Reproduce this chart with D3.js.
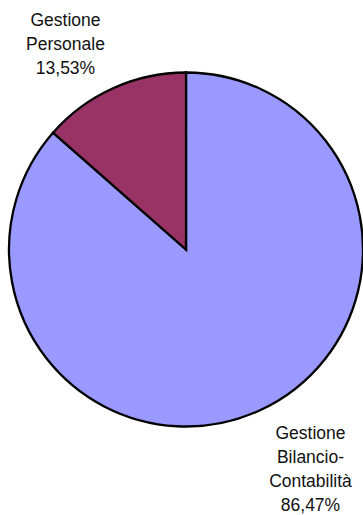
<!DOCTYPE html>
<html>
<head>
<meta charset="utf-8">
<script src="https://cdn.jsdelivr.net/npm/d3@7/dist/d3.min.js"></script>
<style>
  html, body { margin: 0; padding: 0; background: #fff; }
  svg { display: block; }
</style>
</head>
<body>
<svg id="chart" width="363" height="515"></svg>
<script>
// Share of activity by area (percent)
const categories = ["Gestione Bilancio-Contabilità", "Gestione Personale"];
const values = [86.47, 13.53];
const colors = ["#9999FF", "#993366"];
// Label lines shown next to each slice
const labelLines = [
  ["Gestione", "Bilancio-", "Contabilità", "86,47%"],
  ["Gestione", "Personale", "13,53%"]
];

const width = 363, height = 515;
const cx = 186, cy = 249.5, radius = 177;

const svg = d3.select("#chart");
const g = svg.append("g").attr("transform", `translate(${cx},${cy})`);

const pie = d3.pie().sort(null).value(d => d)
  .startAngle(0).endAngle(2 * Math.PI);
const arcs = pie(values);
const arc = d3.arc().innerRadius(0).outerRadius(radius);

g.selectAll("path.slice")
  .data(arcs)
  .join("path")
  .attr("class", "slice")
  .attr("d", arc)
  .attr("fill", (d, i) => colors[i])
  .attr("stroke", "#000")
  .attr("stroke-width", 2.3)
  .attr("stroke-linejoin", "miter");

// Labels placed outside the pie, anchored by their first baseline
const labelPos = [
  { x: 310.5, y: 439 },
  { x: 65.5, y: 25.5 }
];
const lineHeight = 24;

svg.selectAll("text.lbl")
  .data(labelLines)
  .join("text")
  .attr("class", "lbl")
  .attr("x", (d, i) => labelPos[i].x)
  .attr("y", (d, i) => labelPos[i].y)
  .attr("text-anchor", "middle")
  .attr("font-family", "'Liberation Sans', Arial, sans-serif")
  .attr("font-size", "17.5px")
  .attr("fill", "#111")
  .selectAll("tspan")
  .data((d, i) => d.map(t => ({ t, x: labelPos[i].x })))
  .join("tspan")
  .attr("x", d => d.x)
  .attr("dy", (d, j) => j === 0 ? 0 : lineHeight)
  .text(d => d.t);
</script>
</body>
</html>
